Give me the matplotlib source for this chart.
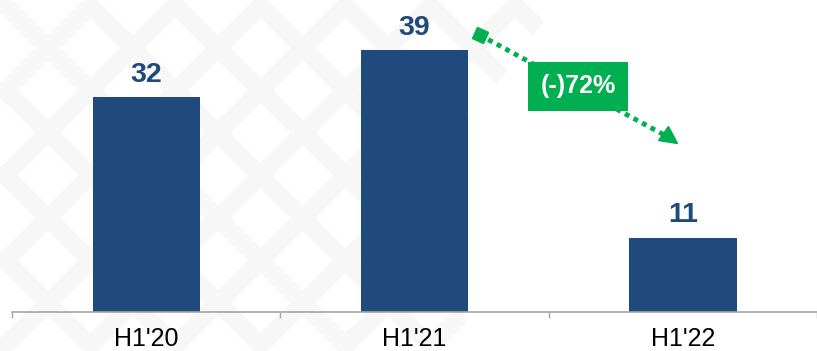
import matplotlib.pyplot as plt
from matplotlib.markers import MarkerStyle
from matplotlib.transforms import Affine2D
from matplotlib.patches import Polygon

# data
periods = ["H1'20", "H1'21", "H1'22"]
values = [32, 39, 11]
change_label = "(-)72%"

BAR_COLOR = "#214A7C"
GREEN = "#00B050"
AXIS_GRAY = "#A6A6A6"

plt.rcParams["font.family"] = ["Liberation Sans", "DejaVu Sans"]

fig = plt.figure(figsize=(8.17, 3.51), dpi=100)

# faint maze-like watermark behind the chart
bg = fig.add_axes([0, 0, 1, 1], zorder=-1)
bg.set_xlim(0, 817)
bg.set_ylim(351, 0)
bg.axis("off")

clip = Polygon([(0, 0), (560, 0), (440, 160), (470, 351), (0, 351)],
               closed=True, transform=bg.transData, visible=False)
bg.add_patch(clip)

for k in range(-8, 14):
    off = k * 85
    for x0, y0, x1, y1 in [(off, 0, off + 351, 351), (off, 351, off + 351, 0)]:
        ln, = bg.plot([x0, x1], [y0, y1], color="#F7F7F7", lw=13,
                      solid_capstyle="butt")
        ln.set_clip_path(clip)

# main chart
ax = fig.add_axes([12 / 817, 39 / 351, 805 / 817, 312 / 351])
ax.patch.set_alpha(0)

x = list(range(len(periods)))
ax.bar(x, values, width=0.40, color=BAR_COLOR, zorder=2)

for xi, v in zip(x, values):
    ax.annotate(str(v), (xi, v), xytext=(0, 7), textcoords="offset points",
                ha="center", va="bottom", fontsize=20.5, fontweight="bold",
                color=BAR_COLOR)

ax.set_xlim(-0.5, len(periods) - 0.5)
ax.set_ylim(0, 46.5)

for side in ["left", "right", "top"]:
    ax.spines[side].set_visible(False)
ax.spines["bottom"].set_color(AXIS_GRAY)
ax.spines["bottom"].set_linewidth(1.2)

ax.set_yticks([])
ax.set_xticks([i - 0.5 for i in range(len(periods) + 1)])
ax.set_xticklabels([])
ax.tick_params(axis="x", which="major", length=4.5, color=AXIS_GRAY, width=1)
ax.set_xticks(x, minor=True)
ax.set_xticklabels(periods, minor=True, fontsize=18)
ax.tick_params(axis="x", which="minor", length=0, pad=11)

# change indicator between H1'21 and H1'22
start = (0.581, 0.888)
end = (0.817, 0.558)
ax.plot([start[0], end[0]], [start[1], end[1]], transform=ax.transAxes,
        color=GREEN, lw=3.5, linestyle=(0, (1, 1)), dash_capstyle="butt",
        zorder=3)
ax.plot(*start, transform=ax.transAxes, marker=MarkerStyle("s", transform=Affine2D().rotate_deg(-28)),
        markersize=9, color=GREEN, zorder=4)
ax.plot(*end, transform=ax.transAxes, marker=MarkerStyle(">", transform=Affine2D().rotate_deg(-35)),
        markersize=12, color=GREEN, zorder=4)

ax.text((start[0] + end[0]) / 2 + 0.004, (start[1] + end[1]) / 2, change_label,
        transform=ax.transAxes, ha="center", va="center", fontsize=18,
        fontweight="bold", color="white", zorder=5,
        bbox=dict(boxstyle="square,pad=0.5", facecolor=GREEN, edgecolor="none"))

fig.savefig("out.png", dpi=100)
